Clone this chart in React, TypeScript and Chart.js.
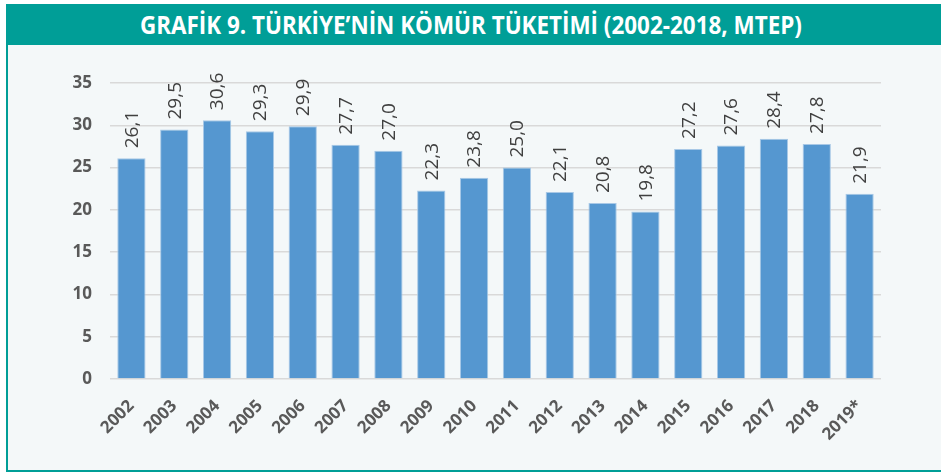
import React, { useEffect, useLayoutEffect, useRef } from 'react';
import { Chart, registerables } from 'chart.js';

Chart.register(...registerables);

const TITLE = 'GRAFİK 9. TÜRKİYE’NİN KÖMÜR TÜKETİMİ (2002-2018, MTEP)';
const categories = ['2002', '2003', '2004', '2005', '2006', '2007', '2008', '2009', '2010', '2011', '2012', '2013', '2014', '2015', '2016', '2017', '2018', '2019*'];
const values = [26.1, 29.5, 30.6, 29.3, 29.9, 27.7, 27.0, 22.3, 23.8, 25.0, 22.1, 20.8, 19.8, 27.2, 27.6, 28.4, 27.8, 21.9];
const yMin = 0;
const yMax = 35;
const yStep = 5;

const TEAL = '#009e97';

const valueLabelPlugin = {
  id: 'valueLabels',
  afterDatasetsDraw(chart: any) {
    const ctx = chart.ctx;
    const meta = chart.getDatasetMeta(0);
    ctx.save();
    ctx.font = '19px "Open Sans"';
    ctx.fillStyle = '#404040';
    ctx.textAlign = 'left';
    ctx.textBaseline = 'middle';
    meta.data.forEach((bar: any, i: number) => {
      const { x, y } = bar.getProps(['x', 'y'], true);
      const label = values[i].toFixed(1).replace('.', ',');
      ctx.save();
      ctx.translate(x + 1, y - 10);
      ctx.rotate(-Math.PI / 2);
      ctx.fillText(label, 0, 0);
      ctx.restore();
    });
    ctx.restore();
  },
};

export default function App() {
  const canvasRef = useRef<HTMLCanvasElement | null>(null);
  const titleRef = useRef<HTMLSpanElement | null>(null);

  useLayoutEffect(() => {
    const el = titleRef.current;
    if (!el) return;
    el.style.transform = 'none';
    const w = el.getBoundingClientRect().width;
    const target = 662;
    if (w > 0) el.style.transform = `scaleX(${target / w})`;
  }, []);

  useEffect(() => {
    if (!canvasRef.current) return;
    const chart = new Chart(canvasRef.current, {
      type: 'bar',
      data: {
        labels: categories,
        datasets: [
          {
            data: values,
            backgroundColor: '#5597d0',
            borderColor: '#a8c8e6',
            borderWidth: 1,
            barPercentage: 0.66,
            categoryPercentage: 1,
          },
        ],
      },
      options: {
        animation: false,
        responsive: false,
        devicePixelRatio: 1,
        layout: { padding: { top: 38, right: 49, left: 0, bottom: 0 } },
        plugins: {
          legend: { display: false },
          tooltip: { enabled: false },
          title: { display: false },
        },
        scales: {
          x: {
            grid: { display: false },
            border: { display: false },
            ticks: {
              color: '#595959',
              font: { family: '"Open Sans"', size: 17, weight: 'bold' },
              minRotation: 45,
              maxRotation: 45,
              padding: 9,
              autoSkip: false,
            },
            afterFit: (scale: any) => {
              scale.height = 91;
            },
          },
          y: {
            min: yMin,
            max: yMax,
            grid: { color: '#d9d9d9', lineWidth: 1.5, drawTicks: false },
            border: { display: false },
            ticks: {
              stepSize: yStep,
              color: '#595959',
              font: { family: '"Open Sans"', size: 17, weight: 'bold' },
              padding: 18,
            },
            afterFit: (scale: any) => {
              scale.width = 70;
            },
          },
        },
      },
      plugins: [valueLabelPlugin],
    });
    return () => chart.destroy();
  }, []);

  return (
    <div style={{ position: 'absolute', left: 0, top: 0, width: 941, height: 474, background: '#ffffff', overflow: 'hidden' }}>
      <div
        style={{
          position: 'absolute',
          left: 6,
          top: 4,
          width: 945,
          height: 41,
          background: TEAL,
        }}
      >
        <div style={{ position: 'absolute', left: 0, top: 0, width: 941, height: 41, display: 'flex', alignItems: 'center', justifyContent: 'center' }}>
          <span
            ref={titleRef}
            style={{
              display: 'inline-block',
              color: '#ffffff',
              fontFamily: '"Open Sans", sans-serif',
              fontWeight: 700,
              fontSize: 25,
              whiteSpace: 'nowrap',
              transformOrigin: 'center',
              lineHeight: '41px',
              marginLeft: -12,
            }}
          >
            {TITLE}
          </span>
        </div>
      </div>
      <div
        style={{
          position: 'absolute',
          left: 6,
          top: 45,
          width: 945,
          height: 425,
          background: '#f4f8f9',
          borderLeft: `2px solid ${TEAL}`,
          borderBottom: `2px solid ${TEAL}`,
        }}
      />
      <canvas
        ref={canvasRef}
        width={890}
        height={425}
        style={{ position: 'absolute', left: 40, top: 45, width: 890, height: 425 }}
      />
    </div>
  );
}
